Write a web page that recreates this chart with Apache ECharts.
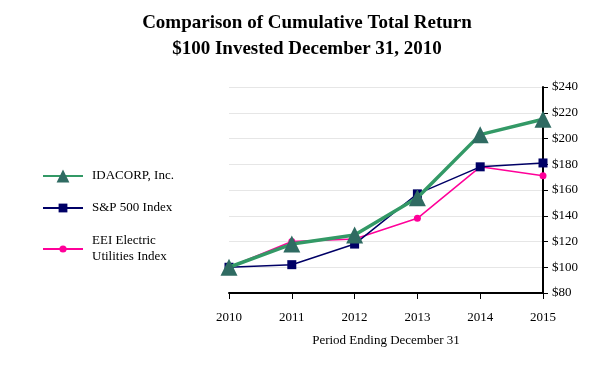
<!DOCTYPE html>
<html>
<head>
<meta charset="utf-8">
<script src="https://cdn.jsdelivr.net/npm/echarts@6/dist/echarts.min.js"></script>
<style>
  html, body { margin: 0; padding: 0; background: #fff; }
  #chart { width: 614px; height: 376px; }
</style>
</head>
<body>
<div id="chart"></div>
<script>
// data
const years = ['2010', '2011', '2012', '2013', '2014', '2015'];
const idacorp = [100, 118, 125, 154, 203, 215];
const sp500 = [100, 102, 118, 157, 178, 181];
const eei = [100, 120, 122, 138, 178, 171];

const font = '"Liberation Serif", "Times New Roman", serif';

const chart = echarts.init(document.getElementById('chart'));

const legendBase = {
  orient: 'vertical',
  left: 37,
  itemWidth: 40,
  itemGap: 10,
  textStyle: { fontFamily: font, fontSize: 13, color: '#000', lineHeight: 16, padding: [0, 0, 0, 4] },
  selectedMode: false
};

chart.setOption({
  animation: false,
  title: {
    text: 'Comparison of Cumulative Total Return\n$100 Invested December 31, 2010',
    left: 'center',
    top: 5,
    textStyle: { fontFamily: font, fontSize: 19, fontWeight: 'bold', color: '#000', lineHeight: 26 }
  },
  legend: [
    Object.assign({}, legendBase, { top: 163, itemHeight: 16, data: ['IDACORP, Inc.'] }),
    Object.assign({}, legendBase, { top: 195, itemHeight: 11, data: ['S&P 500 Index'] }),
    Object.assign({}, legendBase, { top: 228, itemHeight: 9, data: ['EEI Electric\nUtilities Index'] })
  ],
  grid: { left: 229, right: 71, top: 87, bottom: 83 },
  xAxis: {
    type: 'category',
    data: years,
    boundaryGap: false,
    name: 'Period Ending December 31',
    nameLocation: 'middle',
    nameGap: 41,
    nameTextStyle: { fontFamily: font, fontSize: 13, color: '#000' },
    axisLine: { lineStyle: { color: '#000', width: 2 } },
    axisTick: { show: true, alignWithLabel: true, length: 6, lineStyle: { color: '#000', width: 1 } },
    axisLabel: { fontFamily: font, fontSize: 13, color: '#000', margin: 18 },
    splitLine: { show: false }
  },
  yAxis: {
    type: 'value',
    position: 'right',
    min: 80,
    max: 240,
    interval: 20,
    axisLine: { show: true, lineStyle: { color: '#000', width: 2 } },
    axisTick: { show: true, length: 5, lineStyle: { color: '#000', width: 1 } },
    axisLabel: { fontFamily: font, fontSize: 13, color: '#000', margin: 9, formatter: '${value}' },
    splitLine: { show: true, lineStyle: { color: '#e6e6e6', width: 1 } }
  },
  series: [
    {
      name: 'S&P 500 Index',
      type: 'line',
      data: sp500,
      symbol: 'rect',
      symbolSize: 9,
      z: 2,
      itemStyle: { color: '#000066' },
      lineStyle: { color: '#000066', width: 1.5 }
    },
    {
      name: 'EEI Electric\nUtilities Index',
      type: 'line',
      data: eei,
      symbol: 'circle',
      symbolSize: 7,
      z: 1,
      itemStyle: { color: '#ff0099' },
      lineStyle: { color: '#ff0099', width: 1.5 }
    },
    {
      name: 'IDACORP, Inc.',
      type: 'line',
      data: idacorp,
      symbol: 'triangle',
      symbolSize: 17,
      z: 3,
      itemStyle: { color: '#2f6b62' },
      lineStyle: { color: '#339966', width: 3.5 }
    }
  ]
});
</script>
</body>
</html>
